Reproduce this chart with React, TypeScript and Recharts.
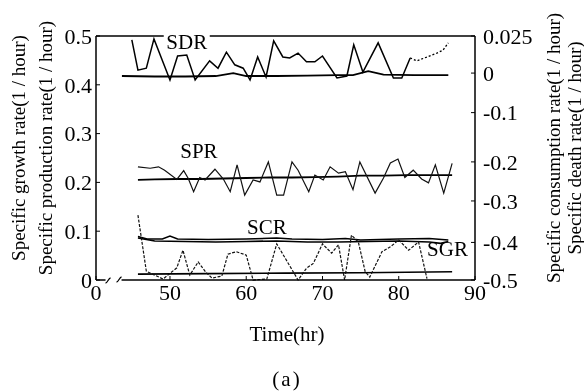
import React from 'react';
import { LineChart, Line, XAxis, YAxis, ReferenceLine, ReferenceDot, Label } from 'recharts';

const FONT = '"Liberation Serif", "Times New Roman", serif';

// broken time axis: "0" sits at 40.3 on the compressed scale
const xTickValues = [40.3, 50, 60, 70, 80, 90];
const xTickLabels = ['0', '50', '60', '70', '80', '90'];

const leftTickValues = [0, 0.1, 0.2, 0.3, 0.4, 0.5];
const leftTickLabels = ['0', '0.1', '0.2', '0.3', '0.4', '0.5'];

// right axis mixes two scales (SCR -0.5..-0.1, SDR 0..0.025), placed on the left scale
const rightTickValues = [0, 0.077, 0.162, 0.242, 0.343, 0.424, 0.5];
const rightTickLabels = ['-0.5', '-0.4', '-0.3', '-0.2', '-0.1', '0', '0.025'];

// SDR - measured
const sdrTimes = [45.0, 45.8, 46.9, 47.9, 50.0, 51.0, 52.2, 53.3, 55.2, 56.3, 57.4, 58.5, 59.6, 60.5, 61.5, 62.6, 63.6, 64.8, 65.7, 66.8, 67.9, 69.0, 70.0, 71.9, 73.2, 74.1, 75.3, 77.3, 79.3, 80.4, 81.5];
const sdrValues = [0.492, 0.43, 0.434, 0.494, 0.41, 0.459, 0.461, 0.41, 0.449, 0.434, 0.467, 0.441, 0.434, 0.41, 0.457, 0.416, 0.49, 0.457, 0.455, 0.465, 0.447, 0.447, 0.459, 0.414, 0.418, 0.482, 0.426, 0.486, 0.414, 0.414, 0.455];
const sdrTailTimes = [81.5, 82.4, 83.7, 85.0, 85.8, 86.5];
const sdrTailValues = [0.455, 0.449, 0.457, 0.465, 0.471, 0.486];
// SDR - model
const sdrFitTimes = [43.7, 48, 52, 56, 58.3, 60, 64, 68, 72, 74, 76, 78, 82, 86.5];
const sdrFitValues = [0.418, 0.417, 0.417, 0.418, 0.424, 0.418, 0.418, 0.419, 0.42, 0.42, 0.428, 0.421, 0.42, 0.42];

// SPR
const sprTimes = [45.8, 47.4, 48.5, 49.3, 50.9, 51.8, 52.4, 53.1, 53.9, 54.6, 55.9, 57.0, 57.9, 58.8, 59.8, 60.9, 61.8, 62.9, 64.0, 64.9, 66.0, 66.8, 68.2, 69.0, 70.1, 71.0, 72.1, 73.0, 74.0, 74.9, 76.9, 78.0, 78.9, 79.9, 80.8, 81.9, 83.0, 83.9, 84.8, 85.9, 87.0];
const sprValues = [0.232, 0.229, 0.232, 0.225, 0.206, 0.224, 0.208, 0.181, 0.21, 0.205, 0.227, 0.207, 0.181, 0.236, 0.174, 0.205, 0.201, 0.242, 0.174, 0.174, 0.242, 0.225, 0.181, 0.215, 0.205, 0.232, 0.219, 0.222, 0.185, 0.242, 0.178, 0.209, 0.24, 0.248, 0.21, 0.225, 0.207, 0.199, 0.236, 0.178, 0.239];
const sprFitTimes = [45.8, 48, 51, 54, 57, 60, 63, 66, 69, 72, 75, 78, 81, 84, 87];
const sprFitValues = [0.205, 0.206, 0.207, 0.207, 0.208, 0.209, 0.21, 0.21, 0.211, 0.212, 0.214, 0.214, 0.215, 0.215, 0.215];

// SCR (two close curves)
const scrTimes = [45.8, 47, 49, 50, 51, 55, 60, 64, 66, 70, 73, 75, 80, 84, 86.5];
const scrValues = [0.089, 0.084, 0.084, 0.09, 0.084, 0.083, 0.084, 0.086, 0.084, 0.083, 0.085, 0.082, 0.084, 0.085, 0.082];
const scrFitTimes = [45.8, 48, 52, 56, 60, 64, 68, 72, 76, 80, 84, 85.5, 86.5];
const scrFitValues = [0.086, 0.08, 0.079, 0.078, 0.079, 0.08, 0.078, 0.078, 0.079, 0.08, 0.078, 0.075, 0.079];

// SGR
const sgrTimes = [45.8, 46.9, 49.1, 50.9, 51.7, 52.6, 53.7, 54.7, 55.5, 56.8, 57.6, 58.7, 60.0, 60.9, 62.7, 64.0, 65.1, 66.8, 67.9, 68.8, 70.0, 71.2, 72.1, 72.9, 73.8, 74.7, 75.6, 76.2, 77.8, 78.9, 80.0, 81.3, 82.6, 83.7];
const sgrValues = [0.133, 0.018, 0.002, 0.025, 0.061, 0.01, 0.037, 0.016, 0.004, 0.008, 0.053, 0.058, 0.051, 0, 0.002, 0.074, 0.045, 0, 0.024, 0.034, 0.074, 0.055, 0.072, 0, 0.092, 0.078, 0.017, 0.006, 0.058, 0.068, 0.082, 0.061, 0.078, 0.003];
const sgrFitTimes = [45.8, 55, 65, 75, 87];
const sgrFitValues = [0.012, 0.013, 0.014, 0.015, 0.017];

// curve names, placed in data units
const tagNames = ['SDR', 'SPR', 'SCR', 'SGR'];
const tagTimes = [52.2, 53.8, 62.7, 86.4];
const tagValues = [0.488, 0.264, 0.109, 0.0635];

const pts = (t: number[], v: number[]) => t.map((x, i) => ({ t: x, v: v[i] }));

const pick = (vals: number[], labels: string[]) => (value: number) => {
    const i = vals.indexOf(value);
    return i >= 0 ? labels[i] : String(value);
};

const LeftTitle = (props: any) => {
    const { x, y, height } = props.viewBox;
    const cy = y + height / 2 - 10;
    return (
        <g fontFamily={FONT} fontSize={19} fill="#000">
            <text transform={`translate(${x + 10},${cy}) rotate(-90)`} textAnchor="middle" dominantBaseline="central">Specific growth rate(1 / hour)</text>
            <text transform={`translate(${x + 37},${cy}) rotate(-90)`} textAnchor="middle" dominantBaseline="central">Specific production rate(1 / hour)</text>
        </g>
    );
};

const RightTitle = (props: any) => {
    const { x, y, height } = props.viewBox;
    const cy = y + height / 2 - 10;
    return (
        <g fontFamily={FONT} fontSize={19} fill="#000">
            <text transform={`translate(${x + 78},${cy}) rotate(-90)`} textAnchor="middle" dominantBaseline="central">Specific consumption rate(1 / hour)</text>
            <text transform={`translate(${x + 99},${cy}) rotate(-90)`} textAnchor="middle" dominantBaseline="central">Specific death rate(1 / hour)</text>
        </g>
    );
};

const BottomTitle = (props: any) => {
    const { x, y, width } = props.viewBox;
    const cx = x + width / 2 + 1.5;
    return (
        <g fontFamily={FONT} fontSize={21} fill="#000">
            <text x={cx} y={y + 61} textAnchor="middle">Time(hr)</text>
            <text x={cx} y={y + 106} textAnchor="middle" letterSpacing={2}>(a)</text>
        </g>
    );
};

const Tag = ({ cx, cy, name, bg }: any) => (
    <g>
        {bg && <rect x={cx - 23} y={cy - 12} width={46} height={24} fill="#fff" />}
        <text x={cx} y={cy} textAnchor="middle" dominantBaseline="central" fontFamily={FONT} fontSize={21} fill="#000">{name}</text>
    </g>
);

const AxisBreak = ({ cx, cy }: any) => (
    <g fill="none" stroke="#000" strokeWidth={1.3}>
        <rect x={cx - 8} y={cy - 4} width={16} height={8} fill="#fff" stroke="none" />
        <path d={`M${cx - 8},${cy + 3} C${cx - 6},${cy + 3} ${cx - 5},${cy - 2} ${cx - 3},${cy - 2}`} />
        <path d={`M${cx + 3},${cy + 2} C${cx + 5},${cy + 2} ${cx + 6},${cy - 3} ${cx + 8},${cy - 3}`} />
    </g>
);

const tickStyle = { fontSize: 22, fill: '#000', fontFamily: FONT };
const axisStroke = { stroke: '#000', strokeWidth: 1.5 };

export default function App() {
    return (
        <div style={{ position: 'fixed', left: 8, top: 8 }}>
            <LineChart width={576} height={384} margin={{ top: 28, right: 0, bottom: 0, left: 0 }}>
                <XAxis
                    dataKey="t"
                    type="number"
                    domain={[40.3, 90]}
                    ticks={xTickValues}
                    interval={0}
                    tickFormatter={pick(xTickValues, xTickLabels)}
                    height={112}
                    tickSize={-4}
                    tickMargin={8}
                    tick={tickStyle}
                    axisLine={axisStroke}
                    tickLine={{ stroke: '#000' }}
                    allowDataOverflow
                >
                    <Label content={BottomTitle} />
                </XAxis>
                <YAxis
                    yAxisId="left"
                    domain={[0, 0.5]}
                    ticks={leftTickValues}
                    interval={0}
                    tickFormatter={pick(leftTickValues, leftTickLabels)}
                    width={88}
                    tickSize={-4}
                    tickMargin={8}
                    tick={tickStyle}
                    axisLine={axisStroke}
                    tickLine={{ stroke: '#000' }}
                >
                    <Label content={LeftTitle} />
                </YAxis>
                <YAxis
                    yAxisId="right"
                    orientation="right"
                    domain={[0, 0.5]}
                    ticks={rightTickValues}
                    interval={0}
                    tickFormatter={pick(rightTickValues, rightTickLabels)}
                    width={109}
                    tickSize={-4}
                    tickMargin={12}
                    tick={tickStyle}
                    axisLine={axisStroke}
                    tickLine={{ stroke: '#000' }}
                >
                    <Label content={RightTitle} />
                </YAxis>
                <ReferenceLine yAxisId="left" y={0.5} stroke="#000" strokeWidth={1.5} />

                <Line yAxisId="left" data={pts(sdrFitTimes, sdrFitValues)} dataKey="v" stroke="#000" strokeWidth={1.8} dot={false} isAnimationActive={false} />
                <Line yAxisId="left" data={pts(sdrTimes, sdrValues)} dataKey="v" stroke="#000" strokeWidth={1.5} dot={false} isAnimationActive={false} />
                <Line yAxisId="left" data={pts(sdrTailTimes, sdrTailValues)} dataKey="v" stroke="#000" strokeWidth={1.3} strokeDasharray="2 2" dot={false} isAnimationActive={false} />

                <Line yAxisId="left" data={pts(sprFitTimes, sprFitValues)} dataKey="v" stroke="#000" strokeWidth={1.8} dot={false} isAnimationActive={false} />
                <Line yAxisId="left" data={pts(sprTimes, sprValues)} dataKey="v" stroke="#111" strokeWidth={1.2} dot={false} isAnimationActive={false} />

                <Line yAxisId="right" data={pts(scrTimes, scrValues)} dataKey="v" stroke="#000" strokeWidth={1.6} dot={false} isAnimationActive={false} />
                <Line yAxisId="right" data={pts(scrFitTimes, scrFitValues)} dataKey="v" stroke="#000" strokeWidth={1.6} dot={false} isAnimationActive={false} />

                <Line yAxisId="left" data={pts(sgrFitTimes, sgrFitValues)} dataKey="v" stroke="#000" strokeWidth={1.6} dot={false} isAnimationActive={false} />
                <Line yAxisId="left" data={pts(sgrTimes, sgrValues)} dataKey="v" stroke="#111" strokeWidth={1.2} strokeDasharray="3 1.5" dot={false} isAnimationActive={false} />

                {tagNames.map((name, i) => (
                    <ReferenceDot
                        key={name}
                        yAxisId="left"
                        x={tagTimes[i]}
                        y={tagValues[i]}
                        shape={(p: any) => <Tag cx={p.cx} cy={p.cy} name={name} bg={i === 0} />}
                    />
                ))}
                <ReferenceDot yAxisId="left" x={42.6} y={0} shape={(p: any) => <AxisBreak cx={p.cx} cy={p.cy} />} />
            </LineChart>
        </div>
    );
}
